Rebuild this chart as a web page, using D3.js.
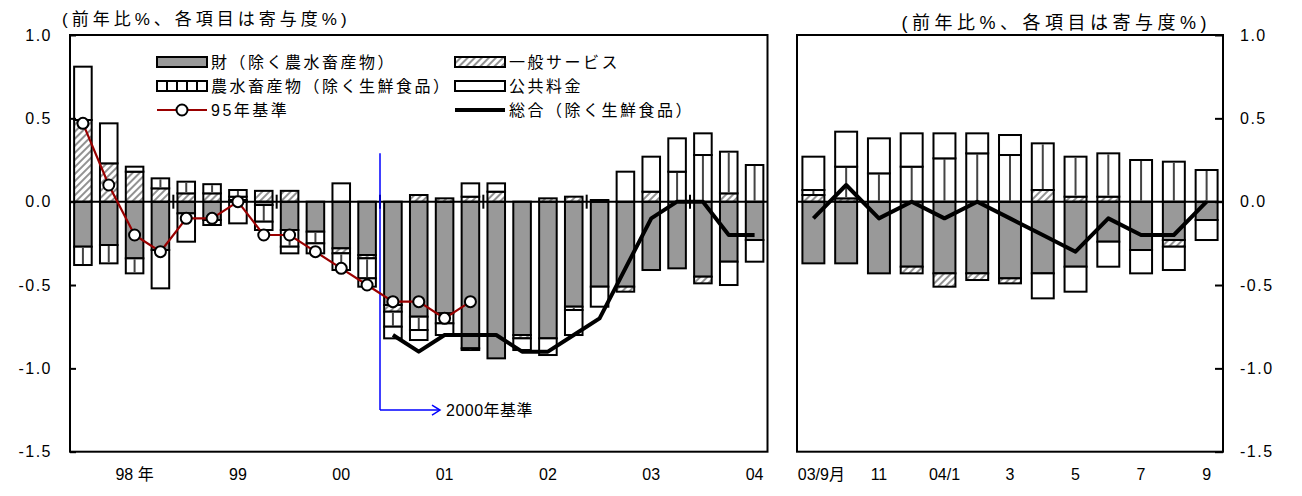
<!DOCTYPE html>
<html>
<head>
<meta charset="utf-8">
<script src="https://cdn.jsdelivr.net/npm/d3@7"></script>
<style>
body { margin: 0; background: #fff; }
text { font-family: "Liberation Sans", "Noto Sans CJK JP", sans-serif; fill: #000; }
</style>
</head>
<body>
<div id="chart"></div>
<script>
// quarterly panel, 1998 Q1 - 2004 Q3
const quarters = ["98Q1","98Q2","98Q3","98Q4","99Q1","99Q2","99Q3","99Q4","00Q1","00Q2","00Q3","00Q4",
    "01Q1","01Q2","01Q3","01Q4","02Q1","02Q2","02Q3","02Q4","03Q1","03Q2","03Q3","03Q4","04Q1","04Q2","04Q3"];
const yearLabels = ["98 年","99","00","01","02","03","04"];
const goodsQ    = [-0.27,-0.26,-0.34,-0.29,-0.07,-0.11,0.01,-0.02,-0.17,-0.18,-0.28,-0.32,-0.62,-0.69,-0.67,-0.88,-0.94,-0.80,-0.82,-0.63,-0.51,-0.51,-0.41,-0.40,-0.45,-0.36,-0.23];
const servicesQ = [0.49,0.23,0.18,0.08,0.05,0.05,0.02,0.065,0.065,0,-0.03,-0.02,-0.04,0.04,0.02,0.03,0.06,-0.02,0.02,0.03,0.01,-0.03,0.06,0,-0.04,0.05,0];
const agriQ     = [-0.11,-0.11,-0.09,0.06,0.07,0.055,0.04,-0.10,-0.10,-0.07,-0.10,-0.12,-0.09,-0.08,-0.06,-0.01,0,0,0,-0.02,0,0,0,0.18,0.28,0.25,0.22];
const publicQ   = [0.32,0.24,0.03,-0.23,-0.17,-0.03,-0.13,-0.05,-0.04,-0.06,0.11,-0.05,-0.07,-0.06,-0.07,0.08,0.05,-0.07,-0.10,-0.15,-0.12,0.18,0.21,0.20,0.13,-0.14,-0.13];
// 95年基準 (1998Q1 - 2001Q4) and 総合 (2001Q1 - 2004Q3)
const base95 = [0.47,0.1,-0.2,-0.3,-0.1,-0.1,0.0,-0.2,-0.2,-0.3,-0.4,-0.5,-0.6,-0.6,-0.7,-0.6];
const totalQ = [-0.8,-0.9,-0.8,-0.8,-0.8,-0.9,-0.9,-0.8,-0.7,-0.4,-0.1,0.0,0.0,-0.2,-0.2];

// monthly panel, 2003/9 - 2004/9
const months = ["03-09","03-10","03-11","03-12","04-01","04-02","04-03","04-04","04-05","04-06","04-07","04-08","04-09"];
const monthLabels = ["03/9月","11","04/1","3","5","7","9"];
const goodsM    = [-0.37,-0.37,-0.43,-0.39,-0.43,-0.43,-0.46,-0.43,-0.39,-0.24,-0.29,-0.23,-0.11];
const servicesM = [0.04,0.02,0,-0.04,-0.08,-0.04,-0.03,0.07,0.03,0.03,0,-0.04,0];
const agriM     = [0.03,0.19,0.17,0.21,0.26,0.29,0.28,0.28,0.24,0.26,0.25,0.24,0.19];
const publicM   = [0.20,0.21,0.21,0.20,0.15,0.12,0.12,-0.15,-0.15,-0.15,-0.14,-0.14,-0.12];
const totalM    = [-0.1,0.1,-0.1,0.0,-0.1,0.0,-0.1,-0.2,-0.3,-0.1,-0.2,-0.2,0.0];

const yTicks = [1.0,0.5,0.0,-0.5,-1.0,-1.5];
const keys = ["goods","services","agri","public"];
const legendNames = ["財（除く農水畜産物）","一般サービス","農水畜産物（除く生鮮食品）","公共料金","95年基準","総合（除く生鮮食品）"];

const width = 1302, height = 496;
const svg = d3.select("#chart").append("svg")
    .attr("width", width)
    .attr("height", height);

//patterns
const defs = svg.append("defs");
const hatch = defs.append("pattern")
    .attr("id", "hatch")
    .attr("patternUnits", "userSpaceOnUse")
    .attr("width", 5).attr("height", 5)
    .attr("patternTransform", "rotate(45)");
hatch.append("rect").attr("width", 5).attr("height", 5).attr("fill", "#fff");
hatch.append("line").attr("x1", 1).attr("y1", 0).attr("x2", 1).attr("y2", 5)
    .attr("stroke", "#777").attr("stroke-width", 1.6);

const fills = {goods: "#999999", services: "url(#hatch)", agri: "#fff", public: "#fff"};

//shared y scale
const y = d3.scaleLinear().domain([-1.5, 1.0]).range([451.7, 35]);
const fmt = d => d.toFixed(1);

function drawPanel(g, cats, rows, x) {
    let series = d3.stack().keys(keys).offset(d3.stackOffsetDiverging)(rows);
    series.forEach(function(s) {
        let segs = s.filter(d => d[1] - d[0] !== 0);
        g.append("g").selectAll("rect")
            .data(segs)
            .join("rect")
            .attr("x", d => x(d.data.cat))
            .attr("width", x.bandwidth())
            .attr("y", d => y(d[1]))
            .attr("height", d => y(d[0]) - y(d[1]))
            .attr("fill", fills[s.key])
            .attr("stroke", "#000")
            .attr("stroke-width", 2);
        if (s.key === "agri") {
            g.append("g").selectAll("line")
                .data(segs)
                .join("line")
                .attr("x1", d => x(d.data.cat) + x.bandwidth() / 2)
                .attr("x2", d => x(d.data.cat) + x.bandwidth() / 2)
                .attr("y1", d => y(d[1]) + 1)
                .attr("y2", d => y(d[0]) - 1)
                .attr("stroke", "#444")
                .attr("stroke-width", 2);
        }
    });
    //zero line
    g.append("line")
        .attr("x1", x.range()[0]).attr("x2", x.range()[1])
        .attr("y1", y(0)).attr("y2", y(0))
        .attr("stroke", "#000").attr("stroke-width", 2);
}

function toRows(cats, a, b, c, d) {
    return cats.map((cat, i) => ({cat: cat, goods: a[i], services: b[i], agri: c[i], public: d[i]}));
}

// ---------- left panel ----------
const xQ = d3.scaleBand().domain(quarters).range([70, 767.5]).paddingInner(0.32).paddingOuter(0.16);
const left = svg.append("g");
drawPanel(left, quarters, toRows(quarters, goodsQ, servicesQ, agriQ, publicQ), xQ);

//year separators on zero line
const step = xQ.step();
left.append("g").selectAll("line")
    .data(quarters.filter((q, i) => i > 0 && i % 4 === 0))
    .join("line")
    .attr("x1", d => xQ(d) - step * 0.16)
    .attr("x2", d => xQ(d) - step * 0.16)
    .attr("y1", y(0) - 7).attr("y2", y(0) + 7)
    .attr("stroke", "#000").attr("stroke-width", 2);

//2000年基準 marker
const bx = xQ(quarters[12]) - step * 0.16;
const blue = left.append("g").attr("stroke", "#0000ff").attr("stroke-width", 1.5).attr("fill", "none");
blue.append("line").attr("x1", bx).attr("x2", bx).attr("y1", y(0.29)).attr("y2", y(-1.25));
blue.append("line").attr("x1", bx).attr("x2", bx + 60).attr("y1", y(-1.25)).attr("y2", y(-1.25));
blue.append("path").attr("d", `M${bx + 52},${y(-1.25) - 5}L${bx + 60},${y(-1.25)}L${bx + 52},${y(-1.25) + 5}`);
left.append("text")
    .attr("x", bx + 66).attr("y", y(-1.25))
    .attr("dy", "0.35em")
    .attr("font-size", 16)
    .attr("letter-spacing", 0.5)
    .text("2000年基準");

//95年基準 line
const line95 = d3.line().x((d, i) => xQ(quarters[i]) + xQ.bandwidth() / 2).y(d => y(d));
left.append("path")
    .datum(base95)
    .attr("d", line95)
    .attr("fill", "none")
    .attr("stroke", "#990000")
    .attr("stroke-width", 2.2);
left.append("g").selectAll("circle")
    .data(base95)
    .join("circle")
    .attr("cx", (d, i) => xQ(quarters[i]) + xQ.bandwidth() / 2)
    .attr("cy", d => y(d))
    .attr("r", 5.5)
    .attr("fill", "#fff")
    .attr("stroke", "#000")
    .attr("stroke-width", 2);

//総合 line (quarterly), starts at 2001Q1
const lineTot = d3.line().x((d, i) => xQ(quarters[i + 12]) + xQ.bandwidth() / 2).y(d => y(d));
left.append("path")
    .datum(totalQ)
    .attr("d", lineTot)
    .attr("fill", "none")
    .attr("stroke", "#000")
    .attr("stroke-width", 4)
    .attr("stroke-linejoin", "round");

//frame
left.append("rect")
    .attr("x", 70).attr("y", 35)
    .attr("width", 767.5 - 70).attr("height", 451.7 - 35)
    .attr("fill", "none").attr("stroke", "#000").attr("stroke-width", 2);

//left axis
const axisL = d3.axisLeft(y).tickValues(yTicks).tickFormat(fmt).tickSizeInner(-6).tickSizeOuter(0).tickPadding(18);
left.append("g")
    .attr("transform", "translate(70,0)")
    .call(axisL)
    .call(g => g.select(".domain").remove())
    .call(g => g.selectAll("line").attr("stroke-width", 2))
    .call(g => g.selectAll("text").attr("font-size", 16).attr("letter-spacing", 1.5)
        .style("font-family", "'Liberation Sans', sans-serif"));

//year labels sit under the third quarter of each year
left.append("g")
    .attr("transform", `translate(0,${451.7})`)
    .call(d3.axisBottom(xQ).tickValues(quarters.filter((q, i) => i % 4 === 2))
        .tickFormat((d, i) => yearLabels[i]).tickSize(0).tickPadding(17))
    .call(g => g.select(".domain").remove())
    .call(g => g.selectAll("text").attr("font-size", 16)
        .style("font-family", "'Liberation Sans', 'Noto Sans CJK JP', sans-serif"));

// ---------- right panel ----------
const xM = d3.scaleBand().domain(months).range([797, 1223]).paddingInner(0.33).paddingOuter(0.165);
const right = svg.append("g");
drawPanel(right, months, toRows(months, goodsM, servicesM, agriM, publicM), xM);

const lineM = d3.line().x((d, i) => xM(months[i]) + xM.bandwidth() / 2).y(d => y(d));
right.append("path")
    .datum(totalM)
    .attr("d", lineM)
    .attr("fill", "none")
    .attr("stroke", "#000")
    .attr("stroke-width", 4)
    .attr("stroke-linejoin", "round");

right.append("rect")
    .attr("x", 797).attr("y", 35)
    .attr("width", 1223 - 797).attr("height", 451.7 - 35)
    .attr("fill", "none").attr("stroke", "#000").attr("stroke-width", 2);

const axisR = d3.axisRight(y).tickValues(yTicks).tickFormat(fmt).tickSizeInner(-8).tickSizeOuter(0).tickPadding(17);
right.append("g")
    .attr("transform", "translate(1223,0)")
    .call(axisR)
    .call(g => g.select(".domain").remove())
    .call(g => g.selectAll("line").attr("stroke-width", 2))
    .call(g => g.selectAll("text").attr("font-size", 16).attr("letter-spacing", 1.5)
        .style("font-family", "'Liberation Sans', sans-serif"));

right.append("g")
    .attr("transform", `translate(0,${451.7})`)
    .call(d3.axisBottom(xM).tickValues(months.filter((m, i) => i % 2 === 0))
        .tickFormat((d, i) => monthLabels[i]).tickSize(0).tickPadding(17))
    .call(g => g.select(".domain").remove())
    .call(g => g.selectAll("text").attr("font-size", 16)
        .style("font-family", "'Liberation Sans', 'Noto Sans CJK JP', sans-serif"))
    .call(g => g.selectAll("text").filter((d, i) => i === 0).attr("dx", 8));

// ---------- titles ----------
svg.append("text").attr("x", 62).attr("y", 25).attr("font-size", 17).attr("letter-spacing", 4)
    .text("(前年比%、各項目は寄与度%)");
svg.append("text").attr("x", 1211).attr("y", 29).attr("text-anchor", "end")
    .attr("font-size", 18).attr("letter-spacing", 4.5)
    .text("(前年比%、各項目は寄与度%)");

// ---------- legend ----------
const legend = svg.append("g").attr("font-size", 16).attr("letter-spacing", 2.5);
const legX = [157, 455], legY = [62, 86, 110];
const swW = 50, swH = 10;
legendNames.forEach(function(name, i) {
    let lx = legX[i % 2], ly = legY[Math.floor(i / 2)];
    let item = legend.append("g").attr("transform", `translate(${lx},${ly})`);
    if (i < 4) {
        let key = keys[i];
        item.append("rect")
            .attr("x", 0).attr("y", -swH / 2).attr("width", swW).attr("height", swH)
            .attr("fill", fills[key]).attr("stroke", "#000").attr("stroke-width", 2);
        if (key === "agri") {
            d3.range(1, 5).forEach(k => item.append("line")
                .attr("x1", k * swW / 5).attr("x2", k * swW / 5)
                .attr("y1", -swH / 2).attr("y2", swH / 2)
                .attr("stroke", "#000").attr("stroke-width", 2));
        }
    } else if (i === 4) {
        item.append("line").attr("x1", 0).attr("x2", swW).attr("stroke", "#990000").attr("stroke-width", 2);
        item.append("circle").attr("cx", swW / 2).attr("r", 5.5).attr("fill", "#fff")
            .attr("stroke", "#000").attr("stroke-width", 2);
    } else {
        item.append("line").attr("x1", 0).attr("x2", swW).attr("stroke", "#000").attr("stroke-width", 4);
    }
    item.append("text").attr("x", swW + 4).attr("dy", "0.35em").text(name);
});
</script>
</body>
</html>
